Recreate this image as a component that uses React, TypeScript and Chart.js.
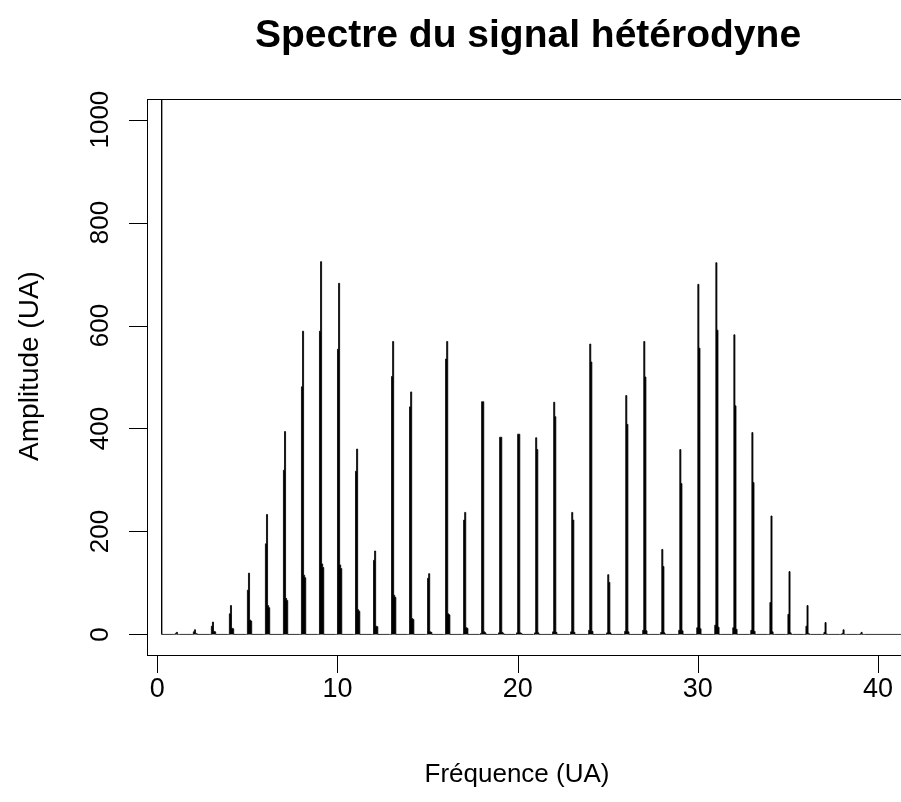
import React, { useEffect, useRef } from "react";
import { Chart, registerables } from "chart.js";

Chart.register(...registerables);

const TITLE = "Spectre du signal hétérodyne";
const X_TITLE = "Fréquence (UA)";
const Y_TITLE = "Amplitude (UA)";
const X_TICKS = [0, 10, 20, 30, 40];
const Y_TICKS = [0, 200, 400, 600, 800, 1000];

// harmonic frequencies (UA)
const peakFreq = [
  1, 2, 3, 4, 5, 6, 7, 8, 9, 10, 11, 12, 13, 14, 15, 16, 17, 18, 19, 20,
  21, 22, 23, 24, 25, 26, 27, 28, 29, 30, 31, 32, 33, 34, 35, 36, 37, 38, 39,
];
// spectrum samples around each harmonic (one frequency bin apart)
const ampBefore = [
  0, 0, 0, 0, 0, 0, 0, 0, 0, 0, 0, 0, 0, 0, 0, 0, 0, 2, 3, 3,
  3, 5, 5, 8, 3, 6, 8, 4, 8, 13, 18, 13, 8, 0, 0, 0, 0, 0, 0,
];
const ampAt = [
  2, 5, 16, 40, 86, 176, 319, 481, 589, 554, 317, 144, 501, 442, 109, 535, 222, 452, 383, 389,
  382, 451, 237, 564, 116, 464, 569, 165, 359, 680, 722, 582, 392, 62, 39, 16, 4, 2, 1,
];
const ampNext = [
  4, 9, 24, 56, 119, 233, 394, 589, 724, 682, 360, 162, 569, 471, 118, 569, 237, 452, 383, 389,
  359, 423, 222, 529, 101, 408, 500, 132, 293, 556, 591, 444, 295, 230, 122, 56, 23, 9, 4,
];
const ampAfter = [
  0, 2, 6, 12, 28, 56, 70, 115, 137, 135, 48, 16, 76, 31, 5, 40, 13, 5, 4, 3,
  3, 4, 4, 6, 3, 5, 7, 3, 7, 11, 14, 10, 6, 5, 3, 2, 1, 0, 0,
];
const ampAfter2 = [
  0, 1, 5, 11, 26, 52, 66, 110, 130, 128, 45, 15, 72, 29, 4, 38, 12, 3, 2, 2,
  0, 0, 0, 0, 0, 0, 0, 0, 0, 0, 0, 0, 0, 0, 0, 0, 0, 0, 0,
];

const DC_FREQ = 0.2;
const DC_AMP = 5000;
const END_FREQ = 42;
const BIN = 0.06;

const FONT = '"Liberation Sans", Arial, Helvetica, sans-serif';

function buildPoints() {
  const pts: { x: number; y: number }[] = [];
  pts.push({ x: DC_FREQ, y: DC_AMP });
  pts.push({ x: DC_FREQ + BIN, y: 0 });
  for (let i = 0; i < peakFreq.length; i++) {
    const n = peakFreq[i];
    pts.push({ x: n - 2 * BIN, y: 0 });
    pts.push({ x: n - BIN, y: ampBefore[i] });
    pts.push({ x: n, y: ampAt[i] });
    pts.push({ x: n + BIN, y: ampNext[i] });
    pts.push({ x: n + 2 * BIN, y: ampAfter[i] });
    pts.push({ x: n + 3 * BIN, y: ampAfter2[i] });
    pts.push({ x: n + 4 * BIN, y: 0 });
  }
  pts.push({ x: END_FREQ, y: 0 });
  return pts;
}

const rAxesPlugin = {
  id: "rAxes",
  afterDraw(chart: any) {
    const ctx = chart.ctx as CanvasRenderingContext2D;
    const { left, top, right, bottom } = chart.chartArea;
    const xs = chart.scales.x;
    const ys = chart.scales.y;
    const TICK = 18;
    ctx.save();
    ctx.strokeStyle = "#000";
    ctx.lineWidth = 1;
    ctx.strokeRect(left + 0.5, top + 0.5, right - left, bottom - top);

    ctx.beginPath();
    for (const v of X_TICKS) {
      const px = Math.round(xs.getPixelForValue(v)) + 0.5;
      ctx.moveTo(px, bottom + 0.5);
      ctx.lineTo(px, bottom + TICK);
    }
    for (const v of Y_TICKS) {
      const py = Math.round(ys.getPixelForValue(v)) + 0.5;
      ctx.moveTo(left - TICK, py);
      ctx.lineTo(left + 0.5, py);
    }
    ctx.stroke();

    ctx.fillStyle = "#000";
    ctx.font = `27px ${FONT}`;
    ctx.textAlign = "center";
    ctx.textBaseline = "middle";
    for (const v of X_TICKS) {
      ctx.fillText(String(v), xs.getPixelForValue(v), bottom + 35);
    }
    ctx.font = `26px ${FONT}`;
    for (const v of Y_TICKS) {
      ctx.save();
      ctx.translate(left - 46, ys.getPixelForValue(v));
      ctx.rotate(-Math.PI / 2);
      ctx.fillText(String(v), 0, 0);
      ctx.restore();
    }

    ctx.font = `26px ${FONT}`;
    ctx.fillText(X_TITLE, 517, bottom + 120);
    ctx.font = `28px ${FONT}`;
    ctx.save();
    ctx.translate(30, 366);
    ctx.rotate(-Math.PI / 2);
    ctx.fillText(Y_TITLE, 0, 0);
    ctx.restore();

    ctx.font = `bold 39px ${FONT}`;
    ctx.fillText(TITLE, 528, 36);
    ctx.restore();
  },
};

export default function App() {
  const ref = useRef<HTMLCanvasElement | null>(null);

  useEffect(() => {
    if (!ref.current) return;
    const chart = new Chart(ref.current, {
      type: "scatter",
      data: {
        datasets: [
          {
            data: buildPoints(),
            showLine: true,
            stepped: "before",
            borderColor: "#000",
            backgroundColor: "#000",
            borderWidth: 0.8,
            pointRadius: 0,
            pointHoverRadius: 0,
            fill: "origin",
          },
        ],
      },
      options: {
        responsive: false,
        animation: false,
        devicePixelRatio: 1,
        layout: { padding: { left: 147, top: 99, right: 7, bottom: 147 } },
        plugins: {
          legend: { display: false },
          tooltip: { enabled: false },
          title: { display: false },
        },
        events: [],
        scales: {
          x: { type: "linear", display: false, min: -0.5717, max: 41.666 },
          y: { type: "linear", display: false, min: -40, max: 1040 },
        },
      },
      plugins: [rAxesPlugin],
    });
    return () => chart.destroy();
  }, []);

  return (
    <div
      style={{
        position: "absolute",
        left: 0,
        top: 0,
        width: 901,
        height: 802,
        overflow: "hidden",
        background: "#fff",
      }}
    >
      <canvas ref={ref} width={915} height={802} style={{ display: "block" }} />
    </div>
  );
}
